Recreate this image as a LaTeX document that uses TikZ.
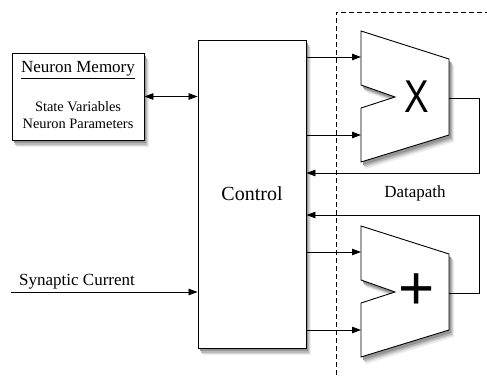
\documentclass[tikz,border=0pt]{standalone}
\usepackage{fontspec}
\setmainfont{Liberation Serif}
\newfontfamily\serifface{Liberation Serif}
\newfontfamily\opfont{Liberation Sans}
\usetikzlibrary{arrows.meta}

\definecolor{shadeA}{RGB}{236,236,236}
\definecolor{shadeB}{RGB}{214,214,214}
\definecolor{shadeC}{RGB}{185,185,185}
\definecolor{shadeD}{RGB}{150,150,150}

\tikzset{
  shA/.style={fill=shadeA},
  shB/.style={fill=shadeB},
  shC/.style={fill=shadeC},
  shD/.style={fill=shadeD},
  block/.style={draw=black,line width=0.9pt,fill=white,inner sep=0pt},
  wire/.style={line width=0.8pt},
  arr/.style={wire,-{Triangle[length=9pt,width=6.5pt]}},
  dblarr/.style={wire,{Triangle[length=9pt,width=6.5pt]}-{Triangle[length=9pt,width=6.5pt]}},
  txt/.style={inner sep=0pt,font=\serifface\fontsize{17}{20}\selectfont},
  smalltxt/.style={inner sep=0pt,font=\serifface\fontsize{14.4}{17}\selectfont},
  opsym/.style={inner sep=0pt},
  aluoutline/.style={insert path={(0,0) -- (88,28) -- (88,104) -- (0,131)
           -- (0,77) -- (34,66) -- (0,54) -- cycle}},
  pics/alu/.style={code={
    \fill[shadeA] (5,7) -- (93,35) -- (93,111) -- (5,138) -- (5,84) -- (39,73) -- (5,61) -- cycle;
    \fill[shadeB] (4,5.5) -- (92,33.5) -- (92,109.5) -- (4,136.5) -- (4,82.5) -- (38,71.5) -- (4,59.5) -- cycle;
    \fill[shadeC] (3,4.5) -- (91,32.5) -- (91,108.5) -- (3,135.5) -- (3,81.5) -- (37,70.5) -- (3,58.5) -- cycle;
    \fill[shadeD] (2,3) -- (90,31) -- (90,107) -- (2,134) -- (2,80) -- (36,69) -- (2,57) -- cycle;
    \path[block] (0,0) -- (88,28) -- (88,104) -- (0,131) -- (0,77)
                 -- (34,66) -- (0,54) -- cycle;
    \coordinate (-in1) at (0,26);
    \coordinate (-in2) at (0,104);
    \coordinate (-out) at (88,67);
    \node[opsym] (-op) at (56,66) {#1};
  }}
}

\begin{document}
\begin{tikzpicture}[x=1pt,y=-1pt]
\useasboundingbox (0,0) rectangle (487,375);

% shadows under the two rectangular blocks
\fill[shadeA] (17,60) rectangle (149,147);
\fill[shadeB] (16,58.5) rectangle (148,145.5);
\fill[shadeC] (15,57.5) rectangle (147,144.5);
\fill[shadeD] (14,56) rectangle (146,143);
\fill[shadeA] (203,47) rectangle (311,355);
\fill[shadeB] (202,45.5) rectangle (310,353.5);
\fill[shadeC] (201,44.5) rectangle (309,352.5);
\fill[shadeD] (200,43) rectangle (308,351);

% datapath boundary
\coordinate (dbot) at (336,375);
\coordinate (dtop) at (336,12);
\coordinate (dright) at (487,12);
\draw[line width=0.8pt,dash pattern=on 5pt off 3pt] (dbot) -- (dtop) -- (dright);
\node[txt] (dp) at (415,193) {Datapath};

% memory block
\node[block,minimum width=132pt,minimum height=87pt] (mem) at (78,96.5) {};
\node[txt] (memt) at (78,70) {\underline{Neuron Memory}};
\node[smalltxt] (sv) at (78,107) {State Variables};
\node[smalltxt] (np) at (78,124) {Neuron Parameters};

% control block
\node[block,minimum width=108pt,minimum height=308pt,
      font=\serifface\fontsize{20}{24}\selectfont] (ctl) at (252,194) {Control};

% arithmetic units
\pic (mul) at (361,31) {alu={\opfont\fontsize{46}{46}\selectfont\scalebox{0.8}[1]{X}}};
\pic (add) at (361,226) {alu={\opfont\fontsize{62}{62}\selectfont +}};

% memory <-> control
\draw[dblarr] (mem.east) -- (mem.east -| ctl.west);

% synaptic input
\coordinate (syn) at (11,292);
\node[txt,anchor=base west] (synt) at (19,285) {Synaptic Current};
\draw[arr] (syn) -- (syn -| ctl.west);

% operands to the units
\draw[arr] (ctl.east |- mul-in1) -- (mul-in1);
\draw[arr] (ctl.east |- mul-in2) -- (mul-in2);
\draw[arr] (ctl.east |- add-in1) -- (add-in1);
\draw[arr] (ctl.east |- add-in2) -- (add-in2);

% results back to control
\coordinate (fbm) at (479,173);
\coordinate (fba) at (479,215);
\draw[arr] (mul-out) -| (fbm) -- (fbm -| ctl.east);
\draw[arr] (add-out) -| (fba) -- (fba -| ctl.east);
\end{tikzpicture}
\end{document}
